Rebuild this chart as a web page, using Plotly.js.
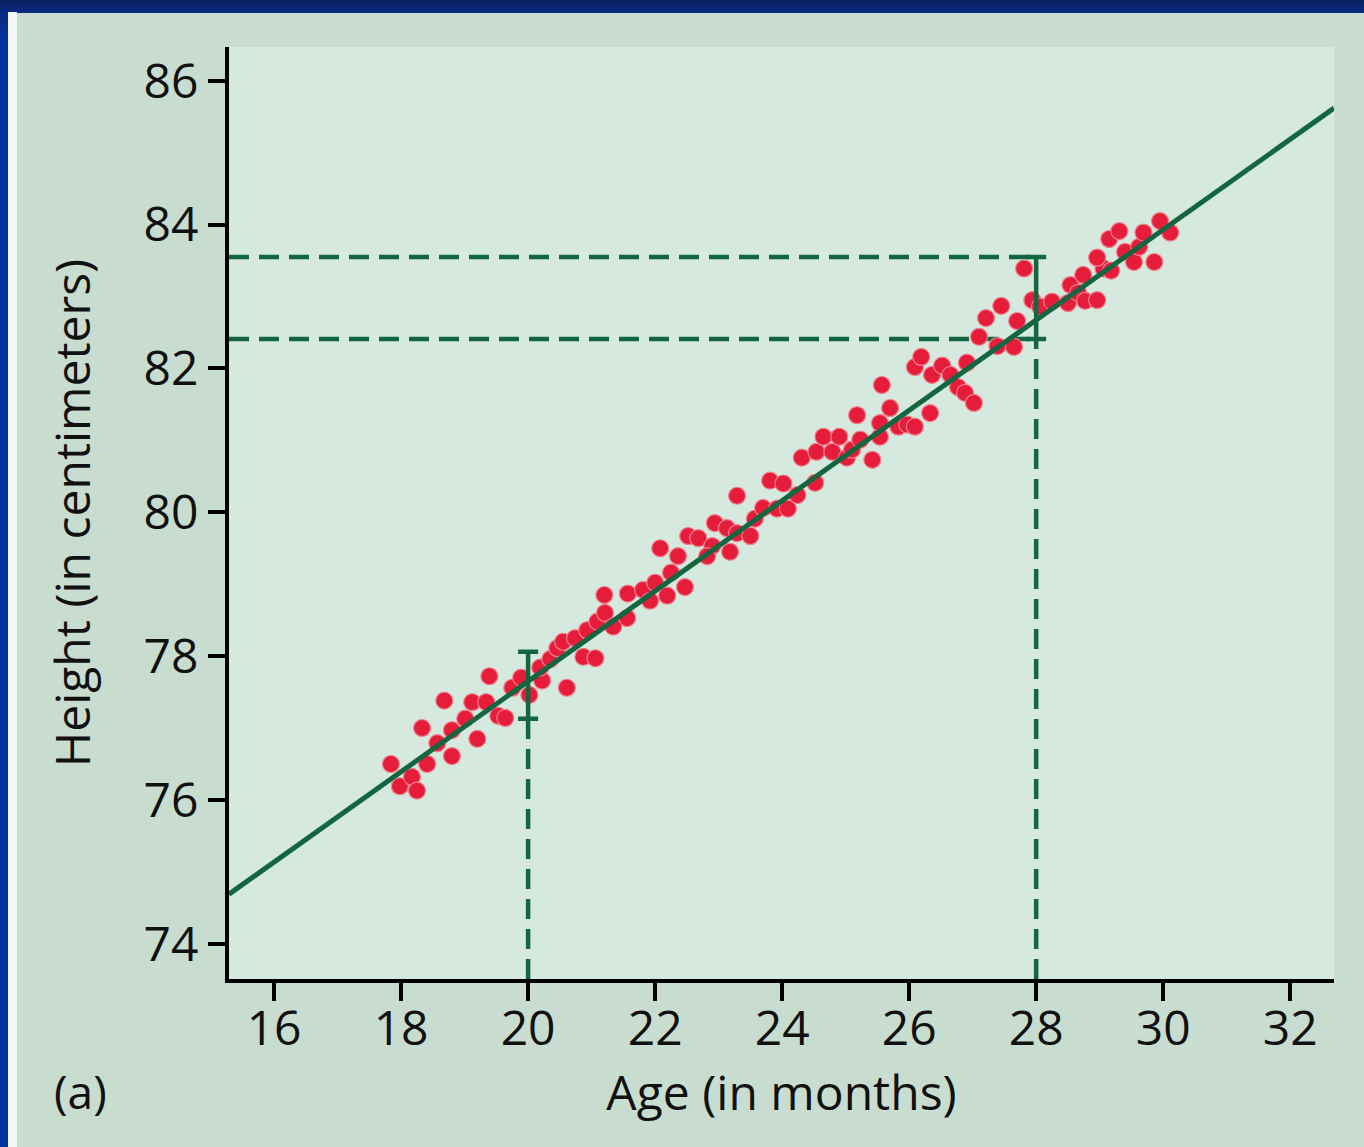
<!DOCTYPE html>
<html>
<head>
<meta charset="utf-8">
<script src="https://cdn.plot.ly/plotly-3.0.1.min.js"></script>
<style>
  html, body { margin: 0; padding: 0; width: 1364px; height: 1147px; overflow: hidden; background: #061d66; }
  #frame { position: absolute; left: 0; top: 0; width: 1364px; height: 1147px;
           background: linear-gradient(180deg, #06205e 0px, #0a2a80 12px, #0033a0 40px, #0033a0 100%); }
  #strip { position: absolute; left: 8px; top: 12px; width: 9px; height: 1135px; background: #f4f6fa; }
  #chart { position: absolute; left: 17px; top: 13px; width: 1347px; height: 1134px; }
</style>
</head>
<body>
<div id="frame"></div>
<div id="strip"></div>
<div id="chart"></div>
<script>
// Observed data: age (months) and height (cm)
const ageMonths = [17.84,17.98,18.17,18.25,18.33,18.41,18.57,18.68,18.80,18.80,19.01,19.12,19.20,19.34,19.39,19.53,19.64,19.75,19.89,20.02,
  20.22,20.19,20.35,20.46,20.55,20.61,20.74,20.87,21.06,20.93,21.09,21.21,21.20,21.34,21.56,21.57,21.81,21.92,22.00,22.19,
  22.25,22.47,22.08,22.36,22.52,22.68,22.90,22.82,23.18,22.94,23.13,23.29,23.50,23.57,23.70,23.29,23.81,24.02,23.92,24.09,
  24.24,24.52,24.31,24.54,24.65,24.79,24.90,25.02,25.10,25.23,25.18,25.42,25.54,25.54,25.70,25.57,25.83,25.97,26.09,26.33,
  26.09,26.19,26.36,26.52,26.65,26.91,26.77,26.88,27.02,27.10,27.21,27.45,27.39,27.65,27.70,27.81,27.94,28.06,28.25,28.50,
  28.54,28.66,28.77,28.96,28.74,29.06,29.18,28.96,29.15,29.31,29.40,29.54,29.62,29.69,29.86,29.95,30.11];
const heightCm = [76.50,76.19,76.32,76.13,77.00,76.50,76.79,77.38,76.61,76.97,77.13,77.36,76.85,77.36,77.72,77.17,77.14,77.56,77.70,77.46,
  77.66,77.84,77.96,78.11,78.20,77.56,78.25,77.99,77.97,78.36,78.48,78.60,78.85,78.41,78.53,78.87,78.92,78.77,79.02,78.84,
  79.16,78.96,79.50,79.39,79.67,79.64,79.53,79.39,79.45,79.85,79.78,79.71,79.67,79.91,80.06,80.23,80.44,80.40,80.05,80.05,
  80.24,80.41,80.76,80.84,81.05,80.84,81.05,80.76,80.87,81.01,81.35,80.73,81.05,81.24,81.45,81.77,81.19,81.22,81.19,81.38,
  82.02,82.16,81.91,82.04,81.91,82.08,81.74,81.66,81.52,82.44,82.70,82.87,82.31,82.30,82.66,83.39,82.95,82.86,82.93,82.91,
  83.16,83.05,82.94,82.95,83.30,83.39,83.36,83.54,83.80,83.91,83.62,83.48,83.69,83.89,83.48,84.05,83.89];

// Regression line end points
const fitX = [15.29, 32.69];
const fitY = [74.69, 85.62];

// Prediction intervals at 20 and 28 months
const predAge = [20, 28];
const predLow = [77.13, 82.41];
const predHigh = [78.06, 83.55];

// Axis settings
const xRange = [15.29, 32.69];
const yRange = [73.51, 86.47];
const xTicks = [16, 18, 20, 22, 24, 26, 28, 30, 32];
const yTicks = [74, 76, 78, 80, 82, 84, 86];

const green = '#136640';
const dash = '20px,10px';
const predMid = predAge.map((a, i) => (predLow[i] + predHigh[i]) / 2);

const traces = [];
// horizontal dashed lines for 28-month interval
[predHigh[1], predLow[1]].forEach(v => {
  traces.push({x: [xRange[0], predAge[1]], y: [v, v], mode: 'lines',
    line: {color: green, width: 4.5, dash: dash}, hoverinfo: 'skip', showlegend: false});
});
// vertical dashed lines from axis up to interval bottoms
predAge.forEach((a, i) => {
  traces.push({x: [a, a], y: [yRange[0], predLow[i]], mode: 'lines',
    line: {color: green, width: 4.5, dash: dash}, hoverinfo: 'skip', showlegend: false});
});
// data points
traces.push({x: ageMonths, y: heightCm, mode: 'markers', type: 'scatter',
  marker: {size: 17, color: '#e51d3b', line: {color: '#f2808c', width: 1.2}},
  showlegend: false, cliponaxis: false});
// regression line
traces.push({x: fitX, y: fitY, mode: 'lines', line: {color: green, width: 5}, showlegend: false});
// interval bars
traces.push({x: predAge, y: predMid, mode: 'markers', marker: {size: 1, color: 'rgba(0,0,0,0)'},
  error_y: {type: 'data', symmetric: false,
    array: predHigh.map((h, i) => h - predMid[i]),
    arrayminus: predLow.map((l, i) => predMid[i] - l),
    color: green, thickness: 4.5, width: 10},
  showlegend: false});

const font = {family: 'Open Sans, sans-serif', color: '#111'};

const layout = {
  width: 1347, height: 1134,
  margin: {l: 212, r: 30, t: 34, b: 168},
  paper_bgcolor: '#c8ddd0',
  plot_bgcolor: '#d6e9df',
  showlegend: false,
  font: Object.assign({size: 48}, font),
  xaxis: {
    range: xRange, tickvals: xTicks, ticktext: xTicks.map(String),
    showgrid: false, zeroline: false, showline: true, linecolor: '#000', linewidth: 4,
    ticks: 'outside', ticklen: 18, tickwidth: 4, tickcolor: '#000',
    ticklabelstandoff: -14,
    tickfont: Object.assign({size: 48}, font),
    title: {text: 'Age (in months)', font: Object.assign({size: 48}, font), standoff: 0}
  },
  yaxis: {
    range: yRange, tickvals: yTicks, ticktext: yTicks.map(String),
    showgrid: false, zeroline: false, showline: true, linecolor: '#000', linewidth: 4,
    ticks: 'outside', ticklen: 17, tickwidth: 4, tickcolor: '#000',
    tickfont: Object.assign({size: 48}, font),
    title: {text: 'Height (in centimeters)', font: Object.assign({size: 48}, font), standoff: 39}
  },
  annotations: [{
    text: '(a)', xref: 'paper', yref: 'paper', x: -0.160, y: -0.120,
    xanchor: 'left', yanchor: 'middle', showarrow: false,
    font: Object.assign({size: 46}, font)
  }]
};

Plotly.newPlot('chart', traces, layout, {displayModeBar: false, staticPlot: true});
</script>
</body>
</html>
